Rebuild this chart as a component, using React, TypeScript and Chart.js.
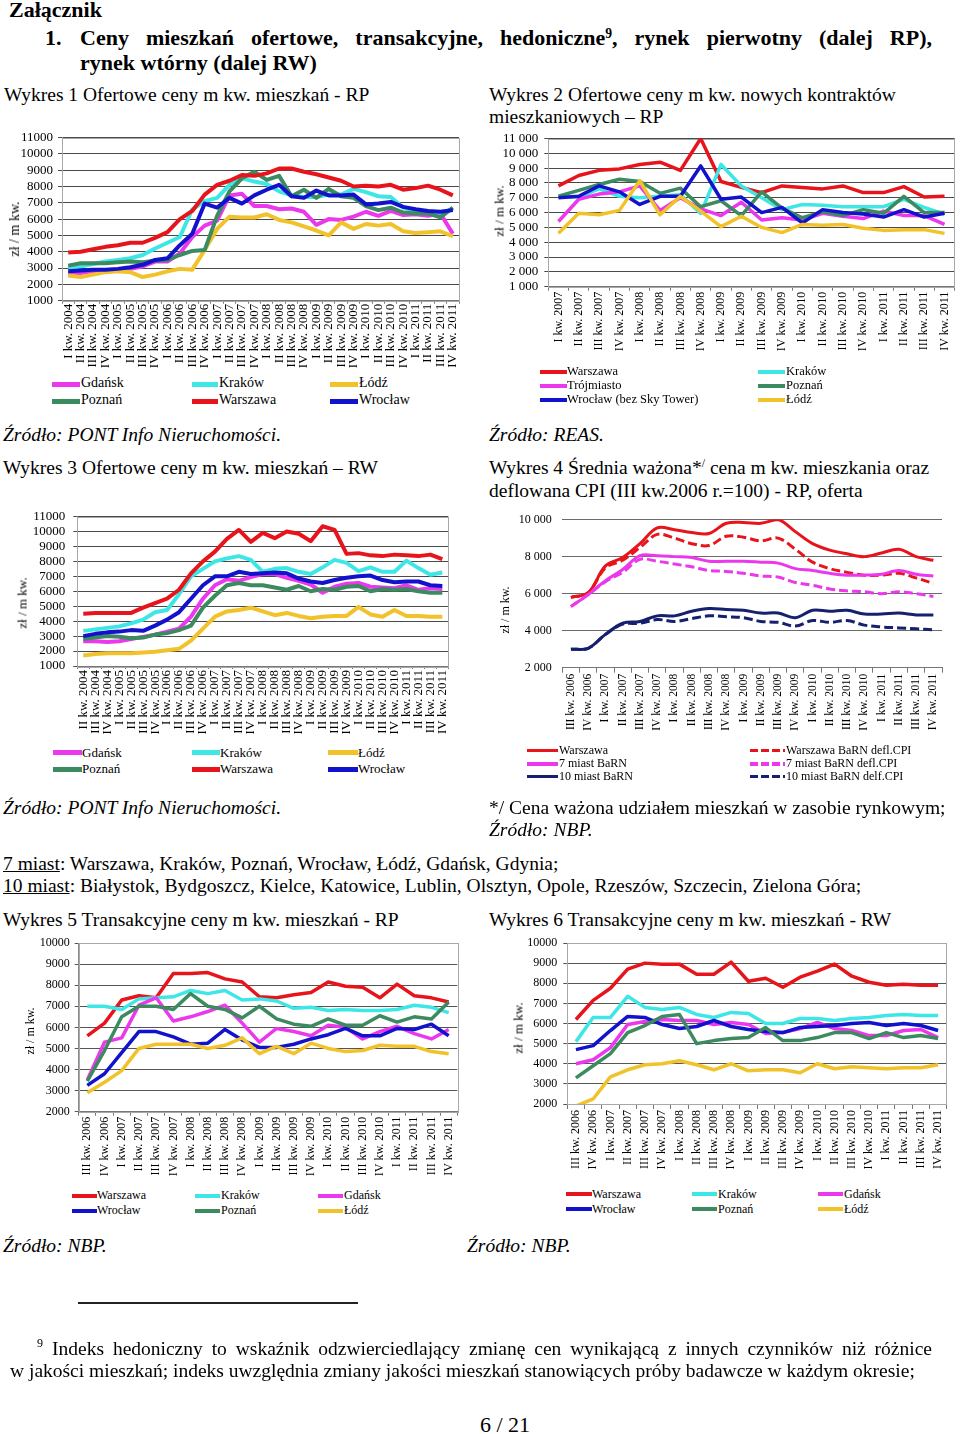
import React, { useEffect, useRef } from "react";
import { Chart, registerables } from "chart.js";
Chart.register(...registerables);

const FONT = '"Liberation Serif", "Times New Roman", Times, serif';

const RED = "#e8141b";
const CYAN = "#3fe6e6";
const MAGENTA = "#ec38ec";
const YELLOW = "#f1c22a";
const GREEN = "#3c8a5f";
const BLUE = "#1212cc";
const NAVY = "#15206e";

// ---------- tick labels ----------
const QUARTERS = [
  "I kw. 2004", "II kw. 2004", "III kw. 2004", "IV kw. 2004",
  "I kw. 2005", "II kw. 2005", "III kw. 2005", "IV kw. 2005",
  "I kw. 2006", "II kw. 2006", "III kw. 2006", "IV kw. 2006",
  "I kw. 2007", "II kw. 2007", "III kw. 2007", "IV kw. 2007",
  "I kw. 2008", "II kw. 2008", "III kw. 2008", "IV kw. 2008",
  "I kw. 2009", "II kw. 2009", "III kw. 2009", "IV kw. 2009",
  "I kw. 2010", "II kw. 2010", "III kw. 2010", "IV kw. 2010",
  "I kw. 2011", "II kw. 2011", "III kw. 2011", "IV kw. 2011",
];
const labels1 = QUARTERS; // I kw. 2004 - IV kw. 2011
const labels2 = QUARTERS.slice(12); // I kw. 2007 - IV kw. 2011
const labels3 = QUARTERS.slice(1); // II kw. 2004 - IV kw. 2011
const labels456 = QUARTERS.slice(10); // III kw. 2006 - IV kw. 2011

// ---------- Wykres 1 ----------
const w1Gdansk = [2700, 2700, 2800, 2850, 2900, 2950, 3100, 3400, 3400, 3900, 4900, 5600, 5900, 7450, 7550, 6800, 6800, 6600, 6650, 6450, 5650, 6000, 5950, 6150, 6450, 6200, 6500, 6250, 6300, 6200, 6350, 5100];
const w1Krakow = [3000, 3100, 3250, 3400, 3500, 3600, 3800, 4200, 4550, 4900, 6600, 7100, 7300, 8100, 8500, 8300, 8150, 7700, 7450, 7350, 7350, 7500, 7500, 7850, 7650, 7400, 7350, 6700, 6500, 6450, 6400, 6600];
const w1Lodz = [2550, 2450, 2600, 2750, 2800, 2750, 2450, 2600, 2800, 2950, 2900, 4100, 5400, 6150, 6100, 6100, 6300, 5950, 5800, 5550, 5300, 5000, 5800, 5400, 5700, 5600, 5700, 5250, 5150, 5200, 5250, 4950];
const w1Poznan = [3150, 3300, 3300, 3300, 3350, 3400, 3350, 3450, 3500, 3800, 4050, 4100, 6200, 7700, 8500, 8900, 8400, 8650, 7400, 7800, 7300, 7850, 7400, 7300, 6800, 6550, 6700, 6400, 6350, 6350, 6100, 6700];
const w1Warszawa = [3950, 4000, 4150, 4300, 4400, 4550, 4550, 4850, 5200, 6000, 6500, 7500, 8100, 8350, 8700, 8650, 8800, 9100, 9100, 8900, 8750, 8550, 8350, 8000, 8050, 8000, 8100, 7800, 7900, 8050, 7800, 7450];
const w1Wroclaw = [2800, 2850, 2900, 2900, 2950, 3050, 3200, 3500, 3600, 4400, 5100, 6950, 6700, 7300, 6950, 7450, 7800, 8100, 7400, 7300, 7750, 7450, 7450, 7500, 6900, 6950, 7050, 6750, 6600, 6500, 6450, 6550];

// ---------- Wykres 2 ----------
const w2Warszawa = [7800, 8500, 8850, 8950, 9250, 9400, 8850, 11000, 8100, 7700, 7350, 7800, 7700, 7600, 7800, 7350, 7350, 7750, 7050, 7100];
const w2Krakow = [7050, 7050, 7600, 7100, 7000, 7100, 7200, 5950, 9250, 7800, 7000, 6200, 6550, 6500, 6400, 6400, 6400, 6900, 6350, 5900];
const w2Trojmiasto = [5400, 6900, 7250, 7400, 7800, 6150, 7000, 6250, 5800, 6700, 5500, 5650, 5500, 5950, 5750, 5600, 6100, 5800, 5800, 5200];
const w2Poznan = [7100, 7500, 7900, 8250, 8100, 7300, 7650, 6400, 6800, 5800, 7400, 6300, 5650, 6050, 5800, 6200, 5950, 7100, 6000, 6000];
const w2Wroclaw = [7000, 7100, 7800, 7400, 6550, 7100, 7100, 9150, 6900, 7050, 6000, 6350, 5300, 6200, 6000, 5900, 5700, 6200, 5700, 5950];
const w2Lodz = [4600, 5950, 5850, 6150, 8150, 5850, 7100, 6100, 5050, 5750, 5000, 4650, 5200, 5150, 5200, 4950, 4800, 4850, 4850, 4600];

// ---------- Wykres 3 ----------
const w3Gdansk = [2650, 2650, 2600, 2650, 2800, 2950, 3100, 3300, 3500, 4300, 5500, 6400, 6800, 6700, 6950, 7150, 7150, 6900, 6700, 6450, 5900, 6300, 6500, 6550, 6300, 6250, 6200, 6400, 6100, 6200, 6150];
const w3Krakow = [3350, 3450, 3550, 3650, 3850, 4100, 4600, 4750, 5800, 7000, 7500, 8000, 8200, 8350, 8100, 7300, 7500, 7550, 7300, 7150, 7600, 8100, 7900, 7350, 7600, 7300, 7300, 8050, 7550, 7100, 7250];
const w3Lodz = [1700, 1800, 1850, 1850, 1850, 1900, 1950, 2050, 2150, 2700, 3500, 4300, 4650, 4750, 4900, 4650, 4400, 4550, 4350, 4200, 4300, 4350, 4350, 4950, 4450, 4300, 4750, 4350, 4350, 4300, 4300];
const w3Poznan = [2800, 2900, 3000, 2950, 2850, 2900, 3100, 3200, 3400, 3700, 4900, 5700, 6400, 6550, 6400, 6400, 6250, 6100, 6350, 6000, 6150, 6100, 6300, 6350, 6000, 6150, 6100, 6150, 6000, 5900, 5900];
const w3Warszawa = [4500, 4550, 4550, 4550, 4550, 4900, 5200, 5500, 6100, 7200, 8000, 8650, 9500, 10100, 9300, 9900, 9550, 10000, 9850, 9350, 10350, 10100, 8500, 8550, 8400, 8350, 8450, 8400, 8350, 8450, 8150];
const w3Wroclaw = [3000, 3150, 3250, 3300, 3400, 3350, 3700, 4100, 4600, 5500, 6400, 7000, 7000, 7300, 7150, 7200, 7250, 7200, 6850, 6650, 6550, 6750, 6900, 7000, 7050, 6750, 6600, 6650, 6650, 6400, 6350];

// ---------- Wykres 4 ----------
const w4Warszawa = [5800, 6050, 7500, 7950, 8700, 9550, 9450, 9300, 9250, 9800, 9850, 9800, 10000, 9350, 8700, 8350, 8150, 8000, 8200, 8400, 8000, 7800];
const w4WarszawaDefl = [5800, 6050, 7400, 7800, 8500, 9200, 9000, 8700, 8600, 9100, 9050, 8850, 9000, 8400, 7700, 7350, 7150, 7000, 7000, 7100, 6850, 6550];
const w4Miast7 = [5300, 5950, 6700, 7300, 8050, 8050, 8000, 7950, 7750, 7750, 7750, 7700, 7650, 7350, 7250, 7100, 7000, 7000, 7050, 7250, 7050, 6950];
const w4Miast7Defl = [5300, 5950, 6650, 7150, 7850, 7750, 7600, 7450, 7250, 7200, 7100, 6950, 6900, 6600, 6450, 6250, 6150, 6100, 6000, 6100, 6000, 5850];
const w4Miast10 = [3000, 3050, 3800, 4400, 4500, 4800, 4800, 5050, 5200, 5150, 5100, 4950, 4950, 4700, 5100, 5050, 5100, 4900, 4900, 4950, 4850, 4850];
const w4Miast10Defl = [3000, 3050, 3800, 4350, 4400, 4600, 4500, 4650, 4800, 4750, 4700, 4500, 4450, 4250, 4550, 4450, 4550, 4300, 4200, 4150, 4100, 4050];

// ---------- Wykres 5 ----------
const w5Warszawa = [5600, 6200, 7300, 7500, 7400, 8550, 8550, 8600, 8300, 8150, 7450, 7400, 7550, 7650, 8150, 7950, 7900, 7400, 8050, 7500, 7400, 7200];
const w5Krakow = [7000, 7000, 6850, 7350, 7400, 7450, 7750, 7600, 7750, 7300, 7350, 7250, 6900, 6950, 6800, 6850, 6800, 6800, 6850, 7050, 6950, 6700];
const w5Gdansk = [3500, 5300, 5500, 7050, 7400, 6300, 6500, 6750, 7050, 6200, 5300, 5950, 5800, 5600, 6100, 6000, 5450, 5800, 6050, 5700, 5450, 5900];
const w5Wroclaw = [3250, 3800, 4800, 5800, 5800, 5550, 5200, 5250, 5900, 5400, 5050, 5050, 5200, 5450, 5650, 5950, 5600, 5600, 5950, 5900, 6150, 5600];
const w5Poznan = [3450, 4900, 6500, 7000, 7000, 6850, 7600, 7000, 6850, 6450, 7000, 6400, 6150, 6050, 6400, 6100, 6100, 6550, 6250, 6500, 6400, 7200];
const w5Lodz = [2900, 3400, 3950, 5000, 5200, 5200, 5200, 5000, 5150, 5500, 4750, 5100, 4750, 5250, 5000, 4850, 4900, 5150, 5100, 5100, 4850, 4750];

// ---------- Wykres 6 ----------
const w6Warszawa = [6200, 7150, 7750, 8700, 9000, 8950, 8950, 8450, 8450, 9050, 8100, 8250, 7800, 8300, 8600, 8950, 8350, 8050, 7900, 7950, 7900, 7900];
const w6Krakow = [5100, 6300, 6300, 7350, 6800, 6700, 6800, 6450, 6300, 6550, 6500, 6000, 6000, 6250, 6250, 6150, 6250, 6300, 6400, 6450, 6400, 6400];
const w6Gdansk = [4000, 4200, 4800, 5950, 6100, 6200, 6150, 6150, 5950, 6050, 5950, 5500, 5550, 5750, 6050, 5750, 5650, 5400, 5400, 5650, 5700, 5300];
const w6Wroclaw = [4700, 4900, 5650, 6350, 6300, 5950, 5750, 5850, 6150, 5850, 5700, 5600, 5550, 5800, 5850, 5900, 6000, 6050, 5900, 6000, 5900, 5650];
const w6Poznan = [3300, 3900, 4500, 5550, 5900, 6350, 6450, 5000, 5150, 5250, 5300, 5800, 5150, 5150, 5300, 5550, 5550, 5250, 5550, 5300, 5400, 5250];
const w6Lodz = [1900, 2250, 3350, 3700, 3950, 4000, 4150, 3950, 3700, 4000, 3650, 3700, 3700, 3550, 4000, 3750, 3850, 3800, 3750, 3800, 3800, 3950];

// ---------- chart specs ----------
type Series = { name: string; data: number[]; color: string; dash?: number[] };
type Spec = {
  box: number[]; // left, top, width, height (page px)
  area: number[]; // plot L, R, T, B (page px)
  labels: string[];
  series: Series[];
  y: { min: number; max: number; step: number; space?: boolean; size: number; tick: number; pad: number };
  x: { size: number; tick: number; pad: number };
  lineWidth: number;
  tension?: number;
  frame: string | null;
  yBorder: string | null;
  grid: string;
};

const SPEC1: Spec = {
  box: [0, 126, 470, 245], area: [62, 459, 136.7, 300.7], labels: labels1,
  series: [
    { name: "Gdańsk", data: w1Gdansk, color: MAGENTA },
    { name: "Kraków", data: w1Krakow, color: CYAN },
    { name: "Łódź", data: w1Lodz, color: YELLOW },
    { name: "Poznań", data: w1Poznan, color: GREEN },
    { name: "Warszawa", data: w1Warszawa, color: RED },
    { name: "Wrocław", data: w1Wroclaw, color: BLUE },
  ],
  y: { min: 1000, max: 11000, step: 1000, size: 13, tick: 4, pad: 5 },
  x: { size: 13, tick: 3, pad: 0 },
  lineWidth: 4, frame: "#a8a8a8", yBorder: "#8a8a8a", grid: "#4a4a4a",
};
const SPEC2: Spec = {
  box: [485, 126, 475, 240], area: [548.3, 957.5, 136.7, 286.7], labels: labels2,
  series: [
    { name: "Warszawa", data: w2Warszawa, color: RED },
    { name: "Kraków", data: w2Krakow, color: CYAN },
    { name: "Trójmiasto", data: w2Trojmiasto, color: MAGENTA },
    { name: "Poznań", data: w2Poznan, color: GREEN },
    { name: "Wrocław (bez Sky Tower)", data: w2Wroclaw, color: BLUE },
    { name: "Łódź", data: w2Lodz, color: YELLOW },
  ],
  y: { min: 1000, max: 11000, step: 1000, space: true, size: 13, tick: 4, pad: 6 },
  x: { size: 12, tick: 4, pad: 1 },
  lineWidth: 3.5, frame: "#a8a8a8", yBorder: "#555", grid: "#4a4a4a",
};
const SPEC3: Spec = {
  box: [0, 502, 470, 242], area: [77.3, 448.3, 512.7, 666], labels: labels3,
  series: [
    { name: "Gdańsk", data: w3Gdansk, color: MAGENTA },
    { name: "Kraków", data: w3Krakow, color: CYAN },
    { name: "Łódź", data: w3Lodz, color: YELLOW },
    { name: "Poznań", data: w3Poznan, color: GREEN },
    { name: "Warszawa", data: w3Warszawa, color: RED },
    { name: "Wrocław", data: w3Wroclaw, color: BLUE },
  ],
  y: { min: 1000, max: 11000, step: 1000, size: 13, tick: 4, pad: 8 },
  x: { size: 13, tick: 3, pad: 1 },
  lineWidth: 4, frame: "#a8a8a8", yBorder: "#8a8a8a", grid: "#4a4a4a",
};
const SPEC4: Spec = {
  box: [485, 503, 475, 237], area: [562.3, 942, 515, 667.7], labels: labels456,
  series: [
    { name: "Warszawa", data: w4Warszawa, color: RED },
    { name: "Warszawa BaRN defl.CPI", data: w4WarszawaDefl, color: RED, dash: [9, 4] },
    { name: "7 miast BaRN", data: w4Miast7, color: MAGENTA },
    { name: "7 miast BaRN defl.CPI", data: w4Miast7Defl, color: MAGENTA, dash: [9, 4] },
    { name: "10 miast BaRN", data: w4Miast10, color: NAVY },
    { name: "10 miast BaRN delf.CPI", data: w4Miast10Defl, color: NAVY, dash: [9, 4] },
  ],
  y: { min: 2000, max: 10000, step: 2000, space: true, size: 12, tick: 0, pad: 10.6 },
  x: { size: 11.5, tick: 5, pad: 1 },
  lineWidth: 3, tension: 0.35, frame: null, yBorder: null, grid: "#6b6b6b",
};
const SPEC5: Spec = {
  box: [0, 932, 470, 252], area: [78.7, 457.3, 940, 1111.7], labels: labels456,
  series: [
    { name: "Warszawa", data: w5Warszawa, color: RED },
    { name: "Kraków", data: w5Krakow, color: CYAN },
    { name: "Gdańsk", data: w5Gdansk, color: MAGENTA },
    { name: "Wrocław", data: w5Wroclaw, color: BLUE },
    { name: "Poznań", data: w5Poznan, color: GREEN },
    { name: "Łódź", data: w5Lodz, color: YELLOW },
  ],
  y: { min: 2000, max: 10000, step: 1000, size: 12, tick: 4, pad: 5 },
  x: { size: 12, tick: 4, pad: 1 },
  lineWidth: 3.5, frame: "#a8a8a8", yBorder: "#8a8a8a", grid: "#555",
};
const SPEC6: Spec = {
  box: [480, 931, 480, 245], area: [567.3, 946.7, 939, 1104], labels: labels456,
  series: [
    { name: "Warszawa", data: w6Warszawa, color: RED },
    { name: "Kraków", data: w6Krakow, color: CYAN },
    { name: "Gdańsk", data: w6Gdansk, color: MAGENTA },
    { name: "Wrocław", data: w6Wroclaw, color: BLUE },
    { name: "Poznań", data: w6Poznan, color: GREEN },
    { name: "Łódź", data: w6Lodz, color: YELLOW },
  ],
  y: { min: 2000, max: 10000, step: 1000, size: 12, tick: 4, pad: 6 },
  x: { size: 12, tick: 5, pad: 1 },
  lineWidth: 3.5, frame: "#a8a8a8", yBorder: "#8a8a8a", grid: "#555",
};

const framePlugin = {
  id: "frame",
  beforeDatasetsDraw(chart: any, _args: any, opts: any) {
    if (!opts || !opts.color) return;
    const { ctx, chartArea: a } = chart;
    ctx.save();
    ctx.strokeStyle = opts.color;
    ctx.lineWidth = 1;
    ctx.strokeRect(Math.round(a.left) + 0.5, Math.round(a.top) + 0.5, Math.round(a.right - a.left), Math.round(a.bottom - a.top));
    ctx.restore();
  },
};

function fmtNum(v: number, space?: boolean) {
  const s = String(Math.round(v));
  return space ? s.replace(/\B(?=(\d{3})+(?!\d))/g, " ") : s;
}

function LineChart({ spec }: { spec: Spec }) {
  const ref = useRef<HTMLCanvasElement | null>(null);
  useEffect(() => {
    const [bl, bt, bw, bh] = spec.box;
    const [L, R, T, B] = spec.area;
    const yW = L - bl;
    const xH = bt + bh - B;
    const datasets = spec.series
      .map((s) => ({
        label: s.name,
        data: s.data,
        borderColor: s.color,
        backgroundColor: s.color,
        borderWidth: spec.lineWidth,
        borderDash: s.dash || [],
        pointRadius: 0,
        pointHoverRadius: 0,
        tension: spec.tension || 0,
        fill: false,
        borderJoinStyle: "round",
        borderCapStyle: "butt",
      }))
      .reverse();
    const chart = new Chart(ref.current as HTMLCanvasElement, {
      type: "line",
      data: { labels: spec.labels, datasets: datasets as any },
      options: {
        responsive: false,
        animation: false,
        devicePixelRatio: 1,
        events: [],
        layout: { padding: { left: 0, top: T - bt, right: bl + bw - R, bottom: 0 } },
        plugins: {
          legend: { display: false },
          tooltip: { enabled: false },
          frame: { color: spec.frame },
        } as any,
        scales: {
          x: {
            type: "category",
            offset: true,
            grid: {
              offset: true,
              drawOnChartArea: false,
              drawTicks: true,
              tickLength: spec.x.tick,
              color: "#777",
            },
            border: { display: true, color: "#777" },
            ticks: {
              autoSkip: false,
              maxRotation: 90,
              minRotation: 90,
              padding: spec.x.pad,
              color: "#000",
              font: { family: FONT, size: spec.x.size },
            },
            afterFit: (s: any) => {
              s.height = xH;
            },
          },
          y: {
            type: "linear",
            min: spec.y.min,
            max: spec.y.max,
            grid: {
              color: spec.grid,
              drawTicks: spec.y.tick > 0,
              tickLength: spec.y.tick,
            },
            border: { display: !!spec.yBorder, color: spec.yBorder || "#000" },
            ticks: {
              autoSkip: false,
              stepSize: spec.y.step,
              padding: spec.y.pad,
              color: "#000",
              font: { family: FONT, size: spec.y.size, lineHeight: 1 },
              callback: (v: any) => fmtNum(Number(v), spec.y.space),
            },
            afterFit: (s: any) => {
              s.width = yW;
            },
          },
        },
      } as any,
      plugins: [framePlugin as any],
    });
    return () => chart.destroy();
  }, [spec]);
  const [bl, bt, bw, bh] = spec.box;
  return (
    <canvas
      ref={ref}
      width={bw}
      height={bh}
      style={{ position: "absolute", left: bl, top: bt, width: bw, height: bh }}
    />
  );
}

// ---------- text helpers ----------
const BODY = 19.5;

function Txt(props: {
  x: number; base: number; size?: number; bold?: boolean; italic?: boolean;
  width?: number; justify?: boolean; children: any;
}) {
  const size = props.size ?? BODY;
  return (
    <div
      style={{
        position: "absolute",
        left: props.x,
        top: props.base - 0.8375 * size,
        fontSize: size,
        lineHeight: `${size}px`,
        fontFamily: FONT,
        fontWeight: props.bold ? 700 : 400,
        fontStyle: props.italic ? "italic" : "normal",
        whiteSpace: "nowrap",
        width: props.width,
        textAlign: props.justify ? "justify" : "left",
        textAlignLast: props.justify ? "justify" : "auto",
        color: "#000",
      } as any}
    >
      {props.children}
    </div>
  );
}

const Sup = ({ children }: { children: any }) => (
  <span style={{ fontSize: "0.62em", verticalAlign: "0.55em", lineHeight: 0 }}>{children}</span>
);

function YTitle({ cx, cy, size }: { cx: number; cy: number; size: number }) {
  return (
    <div
      style={{
        position: "absolute",
        left: cx,
        top: cy,
        transform: "translate(-50%, -50%) rotate(-90deg)",
        fontFamily: FONT,
        fontSize: size,
        lineHeight: `${size}px`,
        whiteSpace: "nowrap",
        color: "#000",
      }}
    >
      zł / m kw.
    </div>
  );
}

type LegendSpec = {
  size: number;
  thick: number;
  rows: number[];
  cols: number[][]; // [swatchStart, swatchEnd, textX]
  series: Series[];
};

function Legend({ spec }: { spec: LegendSpec }) {
  const nCols = spec.cols.length;
  return (
    <>
      {spec.series.map((s, i) => {
        const r = Math.floor(i / nCols);
        const c = i % nCols;
        const y = spec.rows[r];
        const [x0, x1, tx] = spec.cols[c];
        const bg = s.dash
          ? `repeating-linear-gradient(to right, ${s.color} 0px, ${s.color} 8px, transparent 8px, transparent 11px)`
          : s.color;
        return (
          <React.Fragment key={i}>
            <div
              style={{
                position: "absolute",
                left: x0,
                top: y - spec.thick / 2,
                width: x1 - x0,
                height: spec.thick,
                background: bg,
              }}
            />
            <div
              style={{
                position: "absolute",
                left: tx,
                top: y - 0.55 * spec.size,
                fontFamily: FONT,
                fontSize: spec.size,
                lineHeight: `${spec.size}px`,
                whiteSpace: "nowrap",
                color: "#000",
              }}
            >
              {s.name}
            </div>
          </React.Fragment>
        );
      })}
    </>
  );
}

const LEG1: LegendSpec = { size: 14, thick: 5, rows: [384, 401], cols: [[52, 80, 81], [192, 218, 219], [330, 358, 359]], series: SPEC1.series };
const LEG2: LegendSpec = { size: 12.5, thick: 4, rows: [371.7, 386, 400], cols: [[540, 567, 567], [758, 785, 786]], series: SPEC2.series };
const LEG3: LegendSpec = { size: 13, thick: 5, rows: [752.7, 769.3], cols: [[53, 82, 82], [192, 220, 220], [328, 358, 358]], series: SPEC3.series };
const LEG4: LegendSpec = { size: 12, thick: 3.5, rows: [750.7, 764, 776.7], cols: [[527, 558, 559], [750, 785, 786]], series: SPEC4.series };
const LEG5: LegendSpec = { size: 12, thick: 4, rows: [1195.7, 1211], cols: [[72, 97, 97], [195, 220, 221], [318, 343, 344]], series: SPEC5.series };
const LEG6: LegendSpec = { size: 12, thick: 4, rows: [1194.3, 1209.3], cols: [[566, 592, 592], [692, 717, 718], [818, 843, 844]], series: SPEC6.series };

export default function App() {
  return (
    <div
      style={{
        position: "absolute",
        left: 0,
        top: 0,
        width: 960,
        height: 1434,
        background: "#fff",
        overflow: "hidden",
      }}
    >
      <Txt x={9} base={17} size={22} bold>Załącznik</Txt>
      <Txt x={45} base={45} size={22} bold>1.</Txt>
      <Txt x={80} base={45} size={22} bold width={852} justify>
        Ceny mieszkań ofertowe, transakcyjne, hedoniczne<Sup>9</Sup>, rynek pierwotny (dalej RP),
      </Txt>
      <Txt x={80} base={70} size={22} bold>rynek wtórny (dalej RW)</Txt>

      <Txt x={4} base={101}>Wykres 1 Ofertowe ceny m kw. mieszkań - RP</Txt>
      <Txt x={489} base={101}>Wykres 2 Ofertowe ceny m kw. nowych kontraktów</Txt>
      <Txt x={489} base={123}>mieszkaniowych – RP</Txt>

      <LineChart spec={SPEC1} />
      <YTitle cx={15} cy={229} size={14} />
      <Legend spec={LEG1} />

      <LineChart spec={SPEC2} />
      <YTitle cx={499} cy={211} size={13} />
      <Legend spec={LEG2} />

      <Txt x={3} base={441} italic>Źródło: PONT Info Nieruchomości.</Txt>
      <Txt x={489} base={441} italic>Źródło: REAS.</Txt>

      <Txt x={3} base={474}>Wykres 3 Ofertowe ceny m kw. mieszkań – RW</Txt>
      <Txt x={489} base={474}>Wykres 4 Średnia ważona*<Sup>/</Sup> cena m kw. mieszkania oraz</Txt>
      <Txt x={489} base={497}>deflowana CPI (III kw.2006 r.=100) - RP, oferta</Txt>

      <LineChart spec={SPEC3} />
      <YTitle cx={22} cy={603} size={13} />
      <Legend spec={LEG3} />

      <LineChart spec={SPEC4} />
      <YTitle cx={505} cy={610} size={12} />
      <Legend spec={LEG4} />

      <Txt x={3} base={814} italic>Źródło: PONT Info Nieruchomości.</Txt>
      <Txt x={489} base={814}>*/ Cena ważona udziałem mieszkań w zasobie rynkowym;</Txt>
      <Txt x={489} base={836} italic>Źródło: NBP.</Txt>

      <Txt x={3} base={870}>
        <span style={{ textDecoration: "underline" }}>7 miast</span>: Warszawa, Kraków, Poznań, Wrocław, Łódź, Gdańsk, Gdynia;
      </Txt>
      <Txt x={3} base={892}>
        <span style={{ textDecoration: "underline" }}>10 miast</span>: Białystok, Bydgoszcz, Kielce, Katowice, Lublin, Olsztyn, Opole, Rzeszów, Szczecin, Zielona Góra;
      </Txt>

      <Txt x={3} base={926}>Wykres 5 Transakcyjne ceny m kw. mieszkań - RP</Txt>
      <Txt x={489} base={926}>Wykres 6 Transakcyjne ceny m kw. mieszkań - RW</Txt>

      <LineChart spec={SPEC5} />
      <YTitle cx={30} cy={1031} size={12} />
      <Legend spec={LEG5} />

      <LineChart spec={SPEC6} />
      <YTitle cx={518} cy={1028} size={13} />
      <Legend spec={LEG6} />

      <Txt x={3} base={1252} italic>Źródło: NBP.</Txt>
      <Txt x={467} base={1252} italic>Źródło: NBP.</Txt>

      <div style={{ position: "absolute", left: 78, top: 1302, width: 280, height: 2, background: "#222" }} />

      <Txt x={37} base={1347} size={12}>9</Txt>
      <Txt x={52} base={1355} width={880} justify>
        Indeks hedoniczny to wskaźnik odzwierciedlający zmianę cen wynikającą z innych czynników niż różnice
      </Txt>
      <Txt x={10} base={1377}>
        w jakości mieszkań; indeks uwzględnia zmiany jakości mieszkań stanowiących próby badawcze w każdym okresie;
      </Txt>

      <Txt x={480} base={1432} size={22}>6 / 21</Txt>
    </div>
  );
}
